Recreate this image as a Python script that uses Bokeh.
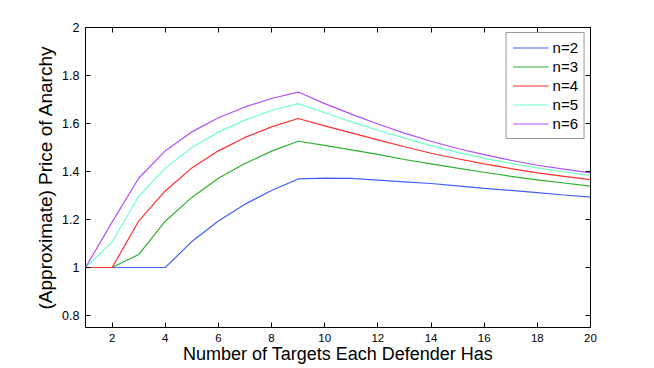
from bokeh.plotting import figure
from bokeh.models import LinearAxis, FixedTicker, Legend, LegendItem, CustomJSTickFormatter, Range1d
from bokeh.embed import file_html
from bokeh.resources import INLINE

targets = list(range(1, 21))
n2 = [1, 1, 1, 1, 1.108, 1.194, 1.264, 1.321, 1.369, 1.372, 1.371, 1.364, 1.357, 1.350, 1.340, 1.330, 1.321, 1.312, 1.302, 1.293]
n3 = [1, 1, 1.054, 1.193, 1.292, 1.372, 1.433, 1.485, 1.526, 1.509, 1.490, 1.471, 1.450, 1.432, 1.414, 1.397, 1.380, 1.365, 1.352, 1.339]
n4 = [1, 1, 1.193, 1.319, 1.415, 1.486, 1.542, 1.586, 1.621, 1.590, 1.561, 1.532, 1.503, 1.476, 1.453, 1.432, 1.412, 1.394, 1.380, 1.366]
n5 = [1, 1.106, 1.296, 1.414, 1.500, 1.564, 1.614, 1.654, 1.683, 1.645, 1.607, 1.572, 1.539, 1.508, 1.480, 1.455, 1.434, 1.415, 1.399, 1.383]
n6 = [1, 1.189, 1.372, 1.486, 1.565, 1.624, 1.669, 1.704, 1.731, 1.683, 1.639, 1.598, 1.560, 1.526, 1.496, 1.470, 1.447, 1.426, 1.410, 1.394]
series = [("n=2", n2), ("n=3", n3), ("n=4", n4), ("n=5", n5), ("n=6", n6)]
colors = ["#4060ff", "#30b030", "#ff3030", "#70ffc8", "#b050ff"]
x_ticks = [2, 4, 6, 8, 10, 12, 14, 16, 18, 20]
y_ticks = [0.8, 1.0, 1.2, 1.4, 1.6, 1.8, 2.0]

FONT = "Liberation Sans"

p = figure(width=654, height=368, output_backend="svg", toolbar_location=None,
           x_range=Range1d(1, 20), y_range=Range1d(0.75, 2),
           x_axis_location=None, y_axis_location=None,
           min_border_left=85, min_border_right=64, min_border_top=27, min_border_bottom=41)
p.xgrid.visible = False
p.ygrid.visible = False
p.outline_line_color = "black"
p.outline_line_width = 1
p.background_fill_color = "white"
p.border_fill_color = "white"

fmt = CustomJSTickFormatter(code="return (Math.round(tick*10)/10).toString();")
blank = CustomJSTickFormatter(code="return '';")

def make_axis(kind, loc, ticks, labels=True, label=None):
    ax = LinearAxis(ticker=FixedTicker(ticks=ticks))
    ax.axis_line_color = None
    ax.major_tick_in = 5
    ax.major_tick_out = 0
    ax.minor_tick_line_color = None
    ax.major_tick_line_color = "black"
    if labels:
        ax.formatter = fmt
        ax.major_label_text_font = FONT
        ax.major_label_text_font_size = "12.5px" if kind == "y" else "11.5px"
        ax.major_label_text_color = "black"
        ax.major_label_standoff = 6
    else:
        ax.formatter = blank
        ax.major_label_standoff = 0
    if label:
        ax.axis_label = label
        ax.axis_label_text_font = FONT
        ax.axis_label_text_font_size = "19px" if kind == "y" else "18px"
        ax.axis_label_text_font_style = "normal"
        ax.axis_label_text_color = "black"
        ax.axis_label_standoff = 3 if kind == "y" else -1
    p.add_layout(ax, loc)
    return ax

make_axis("x", "below", x_ticks, True, "Number of Targets Each Defender Has")
make_axis("y", "left", y_ticks, True, "(Approximate) Price of Anarchy")
make_axis("x", "above", x_ticks, False)
make_axis("y", "right", y_ticks, False)

items = []
for (name, ys), c in zip(series, colors):
    r = p.line(targets, ys, line_color=c, line_width=1.2)
    items.append(LegendItem(label=name, renderers=[r]))

legend = Legend(items=items, location="top_right")
legend.margin = 5
legend.padding = 6
legend.spacing = 2
legend.glyph_width = 36
legend.glyph_height = 15
legend.label_height = 15
legend.label_standoff = 4
legend.label_text_font = FONT
legend.label_text_font_size = "15px"
legend.label_text_color = "black"
legend.border_line_color = "#333333"
legend.border_line_width = 1
legend.background_fill_color = "white"
legend.background_fill_alpha = 1
p.add_layout(legend, "center")

open("out.html", "w").write(file_html(p, INLINE))
